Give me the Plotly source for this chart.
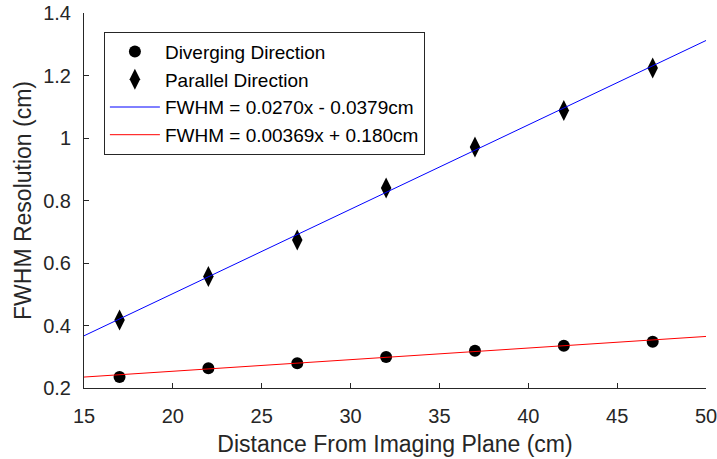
import plotly.graph_objects as go

distance_cm = [17, 22, 27, 32, 37, 42, 47]
diverging_fwhm = [0.235, 0.263, 0.279, 0.299, 0.319, 0.335, 0.348]
parallel_fwhm = [0.418, 0.557, 0.674, 0.840, 0.971, 1.088, 1.224]

fit_x = [15, 50]
parallel_fit = [0.367, 1.312]
diverging_fit = [0.235, 0.365]

x_ticks = [15, 20, 25, 30, 35, 40, 45, 50]
y_ticks = [0.2, 0.4, 0.6, 0.8, 1.0, 1.2, 1.4]
y_tick_text = ["0.2", "0.4", "0.6", "0.8", "1", "1.2", "1.4"]

FONT = "Liberation Sans, Arial, Helvetica, sans-serif"
TXT = "#262626"

fig = go.Figure()
fig.add_trace(go.Scatter(x=distance_cm, y=diverging_fwhm, mode="markers",
                         name="Diverging Direction",
                         marker=dict(symbol="circle", size=12, color="black")))
fig.add_trace(go.Scatter(x=distance_cm, y=parallel_fwhm, mode="markers",
                         name="Parallel Direction",
                         marker=dict(symbol="diamond-tall", size=15, color="black")))
fig.add_trace(go.Scatter(x=fit_x, y=parallel_fit, mode="lines",
                         name="FWHM = 0.0270x - 0.0379cm",
                         line=dict(color="#0000FF", width=1)))
fig.add_trace(go.Scatter(x=fit_x, y=diverging_fit, mode="lines",
                         name="FWHM = 0.00369x + 0.180cm",
                         line=dict(color="#FF0000", width=1)))

fig.update_layout(
    width=717, height=459,
    margin=dict(l=84, r=11, t=13, b=71, autoexpand=False),
    paper_bgcolor="white", plot_bgcolor="white",
    font=dict(family=FONT, color=TXT, size=20),
    legend=dict(x=0.032, y=0.95, xanchor="left", yanchor="top",
                bordercolor="#262626", borderwidth=1, bgcolor="white",
                font=dict(size=19, color="black"), tracegroupgap=0,
                itemwidth=50),
    xaxis=dict(range=[15, 50], tickvals=x_ticks, ticks="inside", ticklen=5,
               tickcolor=TXT, showline=True, linecolor=TXT, linewidth=1,
               showgrid=False, zeroline=False, automargin=False,
               ticklabelstandoff=10, ticklabeloverflow="allow",
               title=dict(text="Distance From Imaging Plane (cm)", font=dict(size=23), standoff=9)),
    yaxis=dict(range=[0.2, 1.4], tickvals=y_ticks, ticktext=y_tick_text,
               ticks="inside", ticklen=5, tickcolor=TXT, showline=True,
               linecolor=TXT, linewidth=1, showgrid=False, zeroline=False,
               automargin=False, ticklabelstandoff=8, ticklabeloverflow="allow",
               title=dict(text="FWHM Resolution (cm)", font=dict(size=23), standoff=5)),
)

fig.write_html("out.html")
